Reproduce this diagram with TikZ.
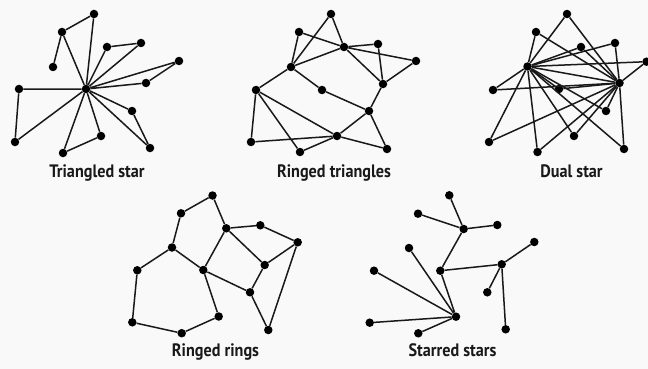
\documentclass[tikz,border=0pt]{standalone}
\usepackage{fontspec}
\newfontfamily\lblfont{PT Sans}[FakeStretch=0.9]
\begin{document}
\begin{tikzpicture}[x=1pt,y=-1pt,
  dot/.style={circle,fill=black,inner sep=0pt,minimum size=8.5pt},
  edge/.style={line width=1.5pt,black!90},
  lbl/.style={font=\lblfont\bfseries\fontsize{18}{20}\selectfont,inner sep=0pt,anchor=base,text=black!90}]
\fill[gray!5] (0,0) rectangle (648,369);
\useasboundingbox (0,0) rectangle (648,369);

% ---------- Triangled star ----------
\node[dot] (c) at (86,89) {};
\node[dot] (a1) at (94,14) {};
\node[dot] (a2) at (62,32) {};
\node[dot] (a3) at (53,67) {};
\node[dot] (b1) at (107,47) {};
\node[dot] (b2) at (141,43) {};
\node[dot] (d1) at (179,61) {};
\node[dot] (d2) at (146,83) {};
\node[dot] (e1) at (19,89) {};
\node[dot] (e2) at (15,142) {};
\node[dot] (f1) at (132,111) {};
\node[dot] (f2) at (150,148) {};
\node[dot] (g1) at (101,136) {};
\node[dot] (g2) at (63,153) {};
\draw[edge] (c)--(a1) (c)--(a2) (a1)--(a2) (a2)--(a3)
  (c)--(b1) (c)--(b2) (b1)--(b2)
  (c)--(d1) (c)--(d2) (d1)--(d2)
  (c)--(e1) (c)--(e2) (e1)--(e2)
  (c)--(f1) (c)--(f2) (f1)--(f2)
  (c)--(g1) (c)--(g2) (g1)--(g2);
\node[lbl] (l1) at (97,177) {Triangled star};

% ---------- Ringed triangles ----------
\node[dot] (n1) at (331,14) {};
\node[dot] (n2) at (299,32) {};
\node[dot] (n3) at (344,47) {};
\node[dot] (n4) at (378,44) {};
\node[dot] (n5) at (416,61) {};
\node[dot] (n6) at (291,67) {};
\node[dot] (n7) at (383,84) {};
\node[dot] (n8) at (322,90) {};
\node[dot] (n9) at (256,90) {};
\node[dot] (n10) at (369,111) {};
\node[dot] (n11) at (337,136) {};
\node[dot] (n12) at (251,142) {};
\node[dot] (n13) at (300,152) {};
\node[dot] (n14) at (387,149) {};
\draw[edge] (n1)--(n6) (n1)--(n3) (n2)--(n6) (n2)--(n3) (n6)--(n3)
  (n3)--(n4) (n3)--(n5) (n3)--(n7) (n4)--(n7) (n5)--(n7)
  (n6)--(n9) (n6)--(n8) (n8)--(n10) (n7)--(n10)
  (n9)--(n12) (n9)--(n13) (n9)--(n11) (n12)--(n11) (n13)--(n11)
  (n11)--(n10) (n11)--(n14) (n10)--(n14);
\node[lbl] (l2) at (334,177) {Ringed triangles};

% ---------- Dual star ----------
\node[dot] (h1) at (527.5,66.5) {};
\node[dot] (h2) at (619.5,83) {};
\node[dot] (s1) at (567,14) {};
\node[dot] (s2) at (536,32) {};
\node[dot] (s3) at (581,47) {};
\node[dot] (s4) at (615,43) {};
\node[dot] (s5) at (646.5,61.7) {};
\node[dot] (s6) at (493,90) {};
\node[dot] (s7) at (559,89) {};
\node[dot] (s8) at (606,111) {};
\node[dot] (s9) at (489,142) {};
\node[dot] (s10) at (574,136) {};
\node[dot] (s11) at (537.5,152) {};
\node[dot] (s12) at (624,149) {};
\draw[edge] (h1)--(h2);
\foreach \s in {s1,s2,s3,s4,s5,s6,s7,s8,s9,s10,s11,s12}{
  \draw[edge] (h1)--(\s) (h2)--(\s);
}
\node[lbl] (l3) at (571.5,177) {Dual star};

% ---------- Ringed rings ----------
\node[dot] (r1) at (212.5,195.5) {};
\node[dot] (r2) at (181,213.3) {};
\node[dot] (r3) at (226.3,228.3) {};
\node[dot] (r4) at (260.3,225.3) {};
\node[dot] (r5) at (297.7,242.3) {};
\node[dot] (r6) at (172,247.5) {};
\node[dot] (r7) at (264.7,265) {};
\node[dot] (r8) at (203.3,270) {};
\node[dot] (r9) at (250,292.3) {};
\node[dot] (r10) at (218.7,316.5) {};
\node[dot] (r11) at (181.7,333.2) {};
\node[dot] (r12) at (268.3,330) {};
\node[dot] (r13) at (137.3,270.3) {};
\node[dot] (r14) at (132.3,322.3) {};
\draw[edge] (r1)--(r2) (r2)--(r6) (r1)--(r3) (r3)--(r4) (r4)--(r5)
  (r3)--(r8) (r3)--(r7) (r7)--(r5) (r6)--(r8) (r6)--(r13)
  (r13)--(r14) (r14)--(r11) (r11)--(r10) (r10)--(r8)
  (r8)--(r9) (r9)--(r7) (r9)--(r12) (r12)--(r5);
\node[lbl] (l4) at (215.5,356) {Ringed rings};

% ---------- Starred stars ----------
\node[dot] (t1) at (449.3,195.3) {};
\node[dot] (t2) at (418,213.7) {};
\node[dot] (t3) at (463.7,229) {};
\node[dot] (t4) at (497.3,225) {};
\node[dot] (t5) at (534.3,242) {};
\node[dot] (t6) at (409,248) {};
\node[dot] (t7) at (501.7,264.3) {};
\node[dot] (t8) at (374,270.7) {};
\node[dot] (t9) at (440.3,270.7) {};
\node[dot] (t10) at (487.3,292.3) {};
\node[dot] (t11) at (456,316.7) {};
\node[dot] (t12) at (369.7,322.7) {};
\node[dot] (t13) at (505.7,329.3) {};
\node[dot] (t14) at (418.3,333.3) {};
\draw[edge] (t1)--(t3) (t2)--(t3) (t3)--(t4) (t3)--(t9)
  (t9)--(t7) (t7)--(t5) (t7)--(t10) (t7)--(t13)
  (t9)--(t11) (t6)--(t11) (t8)--(t11) (t12)--(t11) (t14)--(t11);
\node[lbl] (l5) at (452.5,356) {Starred stars};
\end{tikzpicture}
\end{document}
